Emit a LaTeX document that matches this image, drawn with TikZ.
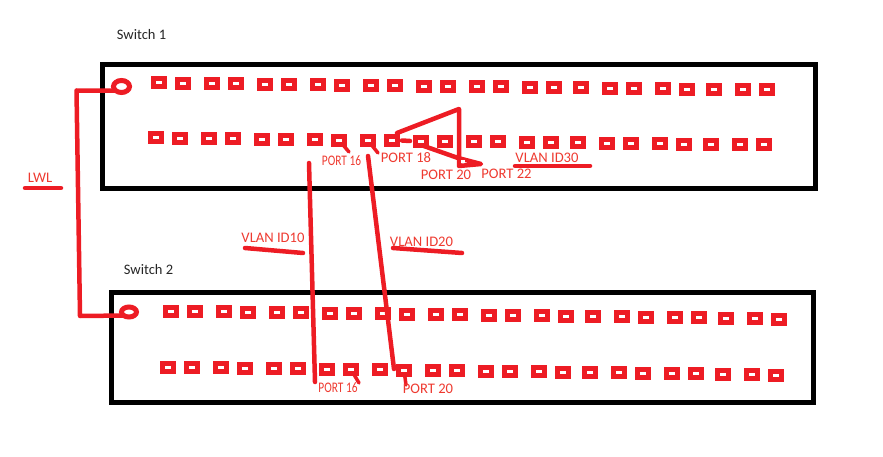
\documentclass[tikz,border=0pt]{standalone}
\usepackage{fontspec}
\setmainfont{Carlito}
\definecolor{pred}{HTML}{ED1C24}
\definecolor{tred}{HTML}{EE3A30}
\tikzset{
  portbox/.style={rectangle,draw=pred,fill=white,line width=5pt,minimum width=11pt,minimum height=8pt,inner sep=0pt,outer sep=0pt},
  switchbox/.style={draw=black,line width=5pt,fill=none},
  wire/.style={draw=pred,line width=4.5pt,line cap=round,line join=round},
  thin wire/.style={draw=pred,line width=3.5pt,line cap=round,line join=round},
  fiberend/.style={ellipse,draw=pred,fill=white,line width=5pt,minimum width=16pt,minimum height=12pt,inner sep=0pt,outer sep=0pt},
  redlabel/.style={text=tred,font=\fontsize{14.6}{15}\selectfont,inner sep=0pt,anchor=center},
  blacklabel/.style={text=black!85,font=\fontsize{14.5}{15}\selectfont,inner sep=0pt,anchor=center}
}
\usetikzlibrary{shapes.geometric}
\begin{document}
\begin{tikzpicture}[x=1pt,y=-1pt]
\useasboundingbox (0,0) rectangle (883,457);
% switch frames
\node[switchbox,rectangle,minimum width=713pt,minimum height=124pt,inner sep=0pt,outer sep=0pt] (sw1) at (459,126.5) {};
\node[switchbox,rectangle,minimum width=702pt,minimum height=110pt,inner sep=0pt,outer sep=0pt] (sw2) at (462.5,347.5) {};
% ports
\foreach \i/\x in {1/0,2/24,3/53,4/77,5/106,6/130,7/159,8/183,9/212,10/236,11/265,12/289,13/318,14/342,15/371,16/395,17/422,18/451,19/475,20/504,21/528,22/555,23/584,24/608}{
  \pgfmathsetmacro{\d}{\x*7/608}
  \node[portbox] (a\i) at (159+\x,83+\d) {};
  \node[portbox] (b\i) at (156+\x,138+\d) {};
  \pgfmathsetmacro{\e}{\x*8/608}
  \node[portbox] (c\i) at (171+\x,311+\e) {};
  \node[portbox] (d\i) at (168+\x,367+\e) {};
}
% fibre ends
\node[fiberend] (f1) at (121.5,86.5) {};
\node[fiberend,minimum width=15pt,minimum height=10pt] (f2) at (129,312) {};
\coordinate (l1) at (76.5,90.5);
\coordinate (l2) at (80,316);
\draw[wire] (f1.south west) -- (l1) -- (l2) -- (f2.south west);
% VLAN 10 and 20 links
\coordinate (v10a) at (309,163);
\coordinate (v10b) at (315,382);
\coordinate (v20a) at (368,156);
\coordinate (v20b) at (394,369);
\draw[wire] (v10a) -- (v10b);
\draw[wire] (v20a) -- (v20b);
% port ticks
\coordinate (t16) at (349,152);
\coordinate (t18) at (378,153);
\coordinate (t16b) at (359,383);
\coordinate (t20b) at (406,385);
\draw[thin wire] (b8) -- (t16);
\draw[thin wire] (b9) -- (t18);
\draw[thin wire] (d8) -- (t16b);
\draw[thin wire] (d10) -- (t20b);
\foreach \n in {b8,b9,d8,d10}{\fill[white] (\n.center) ++(-3,-1.5) rectangle ++(6,3);}
% VLAN 30 wiring
\coordinate (tp) at (459,109);
\coordinate (tq) at (459,166);
\coordinate (tr) at (481,164);
\coordinate (ts) at (458,158);
\coordinate (tu) at (410,141);
\coordinate (tv) at (402,140.5);
\draw[wire] (397,133) -- (tp) -- (tq) -- (tr) -- (ts) -- (421,145);
\draw[wire] (tv) -- (tu);
\fill[white] (461,160.5) rectangle (465,163);
\foreach \n in {b10,b11}{\node[portbox] at (\n) {};}
% underlines
\coordinate (u1a) at (25,188); \coordinate (u1b) at (61,188);
\coordinate (u2a) at (245,248); \coordinate (u2b) at (303,253);
\coordinate (u3a) at (393,248); \coordinate (u3b) at (462,253);
\coordinate (u4a) at (515,166); \coordinate (u4b) at (590,166);
\draw[wire] (u1a) -- (u1b);
\draw[wire] (u2a) -- (u2b);
\draw[wire] (u3a) -- (u3b);
\draw[wire] (u4a) -- (u4b);
% labels
\node[blacklabel] (s1) at (141.5,35) {Switch 1};
\node[blacklabel] (s2) at (148.5,270) {Switch 2};
\node[redlabel] (lwl) at (40,178) {LWL};
\node[redlabel] (vl10) at (273,238) {VLAN ID10};
\node[redlabel] (vl20) at (421.5,242) {VLAN ID20};
\node[redlabel] (vl30) at (547,158) {VLAN ID30};
\node[redlabel] (p16) at (341.5,161) {\scalebox{0.78}[1]{PORT 16}};
\node[redlabel] (p18) at (406,158) {PORT 18};
\node[redlabel] (p20) at (446,175) {PORT 20};
\node[redlabel] (p22) at (506.5,174) {PORT 22};
\node[redlabel] (p16b) at (338,388) {\scalebox{0.78}[1]{PORT 16}};
\node[redlabel] (p20b) at (428,389) {PORT 20};
\end{tikzpicture}
\end{document}
